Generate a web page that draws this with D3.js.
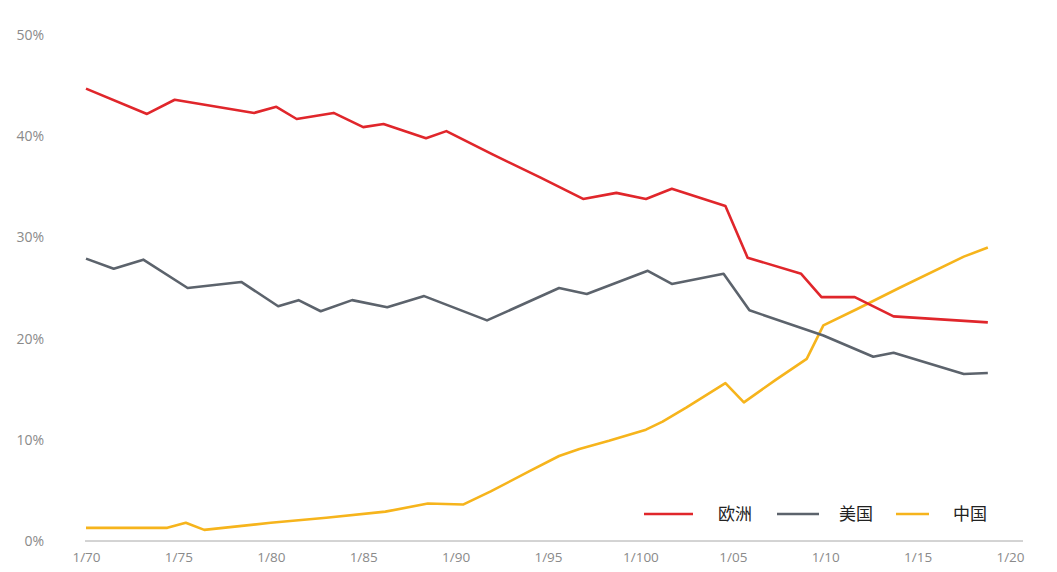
<!DOCTYPE html>
<html><head><meta charset="utf-8">
<script src="https://cdn.jsdelivr.net/npm/d3@7"></script>
<style>body{margin:0;background:#fff}svg{display:block}</style>
</head><body><svg id="c" width="1057" height="572"></svg>
<script>
const tickYears = [1970,1975,1980,1985,1990,1995,2000,2005,2010,2015,2020];
const tickLabels = ["1/70","1/75","1/80","1/85","1/90","1/95","1/100","1/05","1/10","1/15","1/20"];
const yTicks = [0,10,20,30,40,50];
const seriesNames = ["欧洲","美国","中国"];
const seriesColors = ["#e0262b","#5c636c","#f6b41c"];

const europeX = [1970,1973.3,1974.8,1979.1,1980.3,1981.4,1983.4,1985.0,1986.1,1988.4,1989.5,1992,1994.6,1996.9,1998.7,2000.3,2001.7,2004.6,2005.8,2008.7,2009.8,2011.6,2013.7,2018.8];
const europeY = [44.7,42.2,43.6,42.3,42.9,41.7,42.3,40.9,41.2,39.8,40.5,38.2,35.9,33.8,34.4,33.8,34.8,33.1,28.0,26.4,24.1,24.1,22.2,21.6];

const usX = [1970,1971.5,1973.1,1975.5,1978.4,1980.4,1981.5,1982.7,1984.4,1986.3,1988.3,1991.7,1995.6,1997.1,2000.4,2001.7,2004.5,2005.9,2009.9,2012.6,2013.7,2017.5,2018.8];
const usY = [27.9,26.9,27.8,25.0,25.6,23.2,23.8,22.7,23.8,23.1,24.2,21.8,25.0,24.4,26.7,25.4,26.4,22.8,20.3,18.2,18.6,16.5,16.6];

const chinaX = [1970,1974.4,1975.4,1976.4,1980,1983,1986.2,1988.5,1990.4,1991.9,1994,1995.6,1996.7,1998.3,2000.3,2001.2,2002.5,2004.6,2005.6,2007.3,2009.0,2009.9,2011.7,2014,2017.5,2018.8];
const chinaY = [1.3,1.3,1.8,1.1,1.8,2.3,2.9,3.7,3.6,4.9,6.9,8.4,9.1,9.9,11.0,11.8,13.2,15.6,13.7,15.9,18.0,21.3,22.9,25.0,28.1,29.0];

const svg = d3.select("#c");
const x = d3.scaleLinear().domain([1970,2020]).range([86,1010]);
const y = d3.scaleLinear().domain([0,50]).range([541,35]);
const font = "'Open Sans', 'Noto Sans', sans-serif";

// y labels
svg.append("g").selectAll("text").data(yTicks).join("text")
  .attr("x",44).attr("y",d=>y(d)).attr("dy","0.36em")
  .attr("text-anchor","end").attr("font-family",font).attr("font-size",14)
  .attr("fill","#8a8a8a").text(d=>d+"%");

// x axis
const xAxis = d3.axisBottom(x).tickValues(tickYears).tickSize(0).tickPadding(11)
  .tickFormat((d,i)=>tickLabels[i]);
const gx = svg.append("g").attr("transform","translate(0,541)").call(xAxis);
gx.select(".domain").remove();
gx.append("line").attr("x1",85).attr("x2",1023).attr("y1",0).attr("y2",0)
  .attr("stroke","#a8a8a8").attr("stroke-width",1);
gx.selectAll("text").attr("font-family",font).attr("font-size",13.5).attr("fill","#8a8a8a");

const line = d3.line().x(d=>x(d[0])).y(d=>y(d[1]));
const data = [d3.zip(europeX,europeY), d3.zip(usX,usY), d3.zip(chinaX,chinaY)];
[2,1,0].forEach(i=>{
  svg.append("path").datum(data[i]).attr("d",line).attr("fill","none")
    .attr("stroke",seriesColors[i]).attr("stroke-width",2.6).attr("stroke-linejoin","round");
});

// legend
const legX = [644,777,896];
const legLen = [49,42,33];
const txtX = [718,839,953];
seriesNames.forEach((n,i)=>{
  svg.append("line").attr("x1",legX[i]).attr("x2",legX[i]+legLen[i]).attr("y1",514).attr("y2",514)
    .attr("stroke",seriesColors[i]).attr("stroke-width",2.6);
  svg.append("text").attr("x",txtX[i]).attr("y",514).attr("dy","0.36em")
    .attr("font-family","'Noto Sans CJK SC', sans-serif").attr("font-size",17)
    .attr("fill","#222").text(n);
});
</script></body></html>
